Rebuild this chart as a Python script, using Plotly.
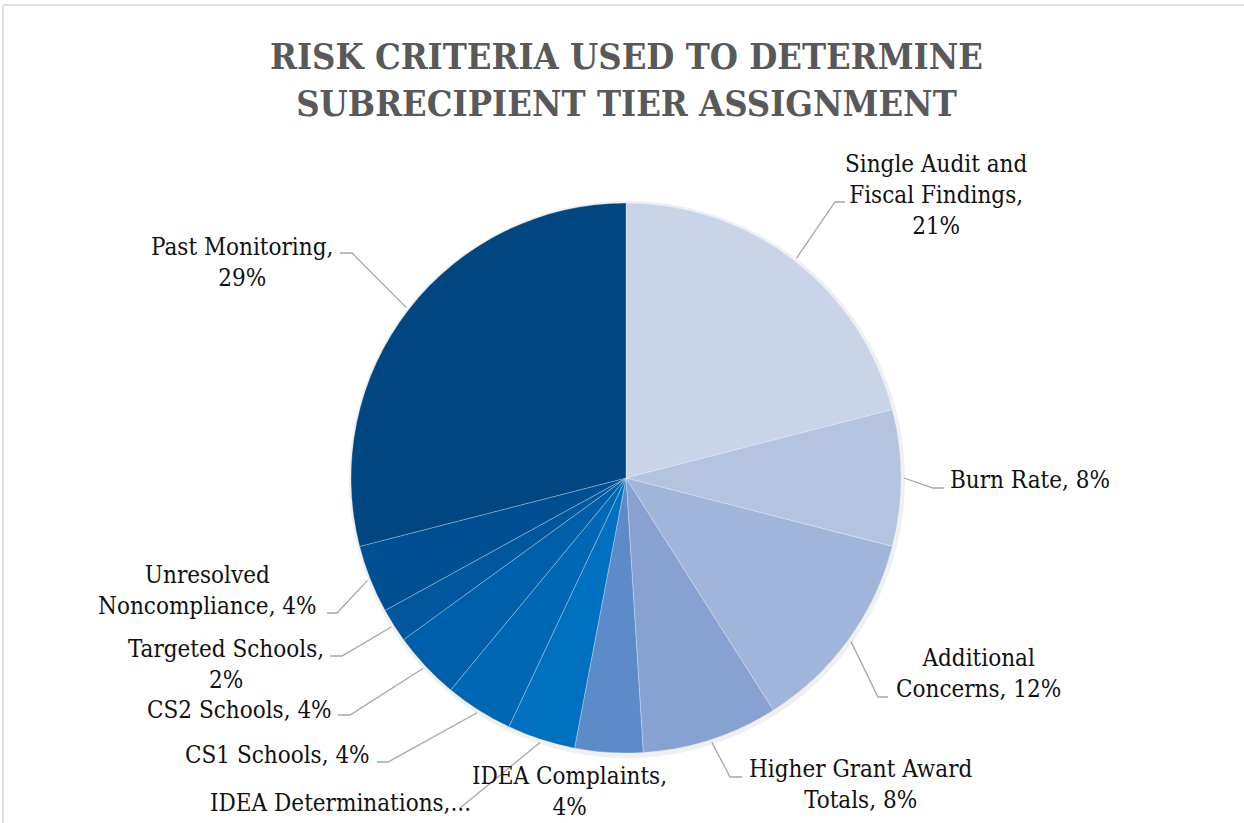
import plotly.graph_objects as go
import math

# ---------------- data ----------------
categories = [
    "Single Audit and Fiscal Findings",
    "Burn Rate",
    "Additional Concerns",
    "Higher Grant Award Totals",
    "IDEA Complaints",
    "IDEA Determinations",
    "CS1 Schools",
    "CS2 Schools",
    "Targeted Schools",
    "Unresolved Noncompliance",
    "Past Monitoring",
]
values = [21, 8, 12, 8, 4, 4, 4, 4, 2, 4, 29]
label_texts = [
    "Single Audit and<br>Fiscal Findings,<br>21%",
    "Burn Rate, 8%",
    "Additional<br>Concerns, 12%",
    "Higher Grant Award<br>Totals, 8%",
    "IDEA Complaints,<br>4%",
    "IDEA Determinations,...",
    "CS1 Schools, 4%",
    "CS2 Schools, 4%",
    "Targeted Schools,<br>2%",
    "Unresolved<br>Noncompliance, 4%",
    "Past Monitoring,<br>29%",
]

# ---------------- styles / layout ----------------
colors = [
    "#C9D4E8", "#B4C3E0", "#A1B4DA", "#87A2D2", "#5D8BCA",
    "#0070C0", "#0067B5", "#005FAA", "#00579E", "#004F93", "#004680",
]
W, H = 1244, 823
CX, CY, R = 626, 478, 275

# label placement: (text x, text y, xanchor, elbow x, elbow y, end x)  (None = no leader)
label_layout = [
    (936, 195, "center", 835, 202, 845),
    (948, 480, "left", 933, 488, 944),
    (978, 673, "center", 878, 697, 888),
    (860, 784, "center", 730, 777, 742),
    (569, 791, "center", None, None, None),
    (340, 803, "center", 460, 808, 460),
    (372, 755, "right", 388, 762, 377),
    (334, 710, "right", 350, 715, 338),
    (226, 664, "center", 342, 656, 330),
    (207, 590, "center", 337, 613, 327),
    (242, 262, "center", 352, 253, 340),
]

fig = go.Figure()

# pie
fig.add_trace(go.Pie(
    labels=categories,
    values=values,
    sort=False,
    direction="clockwise",
    rotation=0,
    textinfo="none",
    hoverinfo="label+percent",
    marker=dict(colors=colors, line=dict(color="rgba(255,255,255,0.35)", width=0.8)),
    domain=dict(x=[(CX - R) / W, (CX + R) / W], y=[1 - (CY + R) / H, 1 - (CY - R) / H]),
    showlegend=False,
))

# leader lines computed from slice mid-angles
total = sum(values)
cum = 0
annotations = []
for val, txt, lay in zip(values, label_texts, label_layout):
    mid = (cum + val / 2) / total * 2 * math.pi
    cum += val
    tx, ty, xa, ex, ey, hx = lay
    if ex is not None:
        sx = CX + (R + 3) * math.sin(mid)
        sy = CY - (R + 3) * math.cos(mid)
        fig.add_trace(go.Scatter(
            x=[sx, ex, hx], y=[sy, ey, ey], mode="lines",
            line=dict(color="#A6A6A6", width=1.3),
            hoverinfo="skip", showlegend=False,
        ))
    annotations.append(dict(
        x=tx, y=ty, xref="x", yref="y", text=txt, showarrow=False,
        xanchor=xa, yanchor="middle", align="center",
        font=dict(family="DejaVu Serif Condensed, DejaVu Serif, serif", size=24, color="#111111"),
    ))

# title
annotations.append(dict(
    x=CX, y=79, xref="x", yref="y",
    text="<b>RISK CRITERIA USED TO DETERMINE<br>SUBRECIPIENT TIER ASSIGNMENT</b>",
    showarrow=False, xanchor="center", yanchor="middle", align="center",
    font=dict(family="DejaVu Serif Condensed, DejaVu Serif, serif", size=36, color="#595959"),
))

shapes = [
    # soft shadow behind pie
    dict(type="circle", xref="x", yref="y", layer="below",
         x0=CX - R - 2, x1=CX + R + 4, y0=CY - R - 2, y1=CY + R + 5,
         fillcolor="rgba(0,0,0,0.06)", line=dict(width=0)),
    # chart border (top & left visible)
    dict(type="line", xref="x", yref="y", x0=3, x1=W + 5, y0=5, y1=5,
         line=dict(color="#D9D9D9", width=1.5)),
    dict(type="line", xref="x", yref="y", x0=3, x1=3, y0=5, y1=H + 5,
         line=dict(color="#D9D9D9", width=1.5)),
]

fig.update_layout(
    width=W, height=H,
    margin=dict(l=0, r=0, t=0, b=0),
    paper_bgcolor="white", plot_bgcolor="rgba(0,0,0,0)",
    xaxis=dict(range=[0, W], visible=False, fixedrange=True, domain=[0, 1]),
    yaxis=dict(range=[H, 0], visible=False, fixedrange=True, domain=[0, 1]),
    annotations=annotations,
    shapes=shapes,
    showlegend=False,
)

fig.write_html(
    "out.html",
    config={"displayModeBar": False},
    post_script="document.body.style.margin='0px';document.body.style.overflow='hidden';",
)
